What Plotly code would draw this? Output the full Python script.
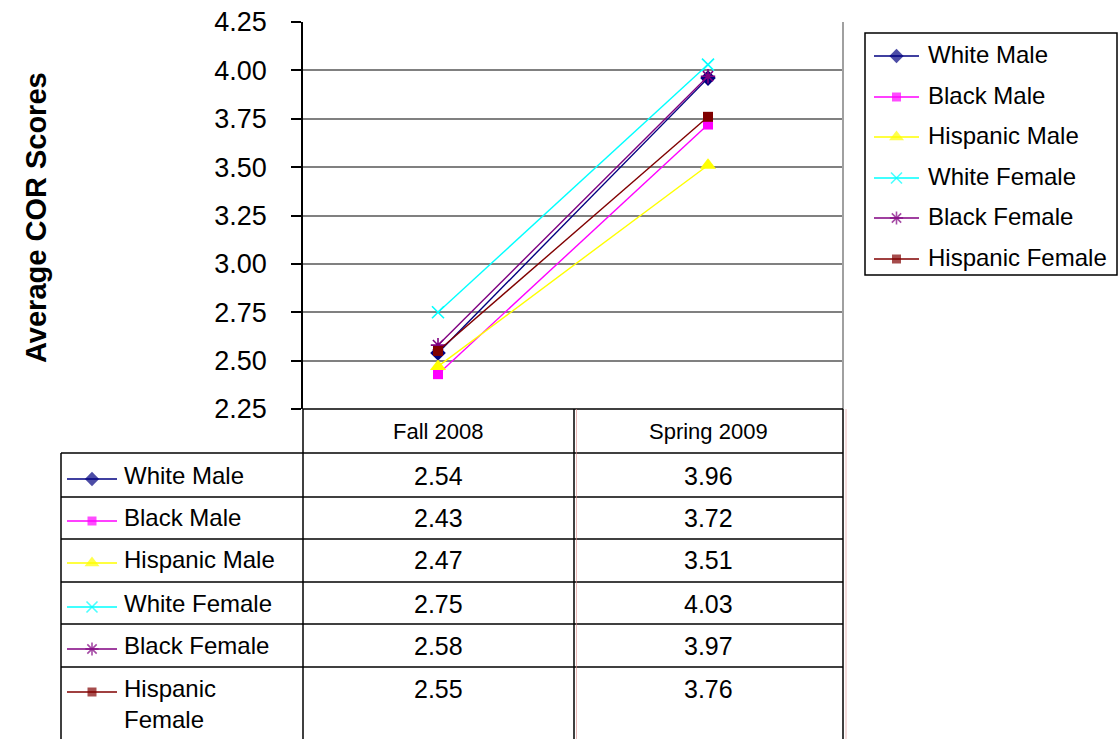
import textwrap
import plotly.graph_objects as go

W, H = 1120, 739
FONT = "Liberation Sans, Arial, sans-serif"

# ---- data ----
terms = ["Fall 2008", "Spring 2009"]
groups = ["White Male", "Black Male", "Hispanic Male",
          "White Female", "Black Female", "Hispanic Female"]
fall_2008 = [2.54, 2.43, 2.47, 2.75, 2.58, 2.55]
spring_2009 = [3.96, 3.72, 3.51, 4.03, 3.97, 3.76]
y_ticks = [2.25, 2.50, 2.75, 3.00, 3.25, 3.50, 3.75, 4.00, 4.25]

# ---- series styling ----
styles = {
    "White Male":      dict(color="#000080", symbol="diamond", size=12),
    "Black Male":      dict(color="#FF00FF", symbol="square", size=10),
    "Hispanic Male":   dict(color="#FFFF00", symbol="triangle-up", size=14),
    "White Female":    dict(color="#00FFFF", symbol="x-thin", size=12),
    "Black Female":    dict(color="#800080", symbol="asterisk", size=12),
    "Hispanic Female": dict(color="#800000", symbol="square", size=10),
}
LINE_SYMBOLS = {"x-thin", "asterisk"}


def marker_for(st, size):
    if st["symbol"] in LINE_SYMBOLS:
        return dict(symbol=st["symbol"], size=size, color=st["color"],
                    line=dict(color=st["color"], width=1.6))
    return dict(symbol=st["symbol"], size=size, color=st["color"],
                line=dict(width=0))


# ---- layout geometry (pixels) ----
PLOT_L, PLOT_R, PLOT_T, PLOT_B = 303, 843, 22, 409
TABLE_LEFT, COL_MID = 61, 574
HEADER_Y = 431
row_lines = [453, 497, 539, 582, 624, 667]
row_text_y = [476, 518, 560, 604, 646, 689]
LEG_BOX = (865, 33, 1117, 275)
leg_text_y = [54, 95, 135, 176, 216, 257]

fig = go.Figure()

# main lines
for i, g in enumerate(groups):
    st = styles[g]
    fig.add_trace(go.Scatter(
        x=terms, y=[fall_2008[i], spring_2009[i]],
        mode="lines+markers", name=g,
        line=dict(color=st["color"], width=1.4),
        marker=marker_for(st, st["size"]),
        xaxis="x", yaxis="y", showlegend=False, cliponaxis=False,
    ))


# legend keys (table rows and right-hand legend) on a full-page pixel axis
def add_key(g, x0, x1, y):
    st = styles[g]
    xm = (x0 + x1) / 2
    m = marker_for(st, st["size"] - 1)
    m["size"] = [0, st["size"] - 1, 0]
    fig.add_trace(go.Scatter(
        x=[x0, xm, x1], y=[y, y, y], mode="lines+markers",
        line=dict(color=st["color"], width=1.4), marker=m,
        xaxis="x2", yaxis="y2", showlegend=False, hoverinfo="skip",
    ))


annotations = []
shapes = []

for i, g in enumerate(groups):
    add_key(g, 67, 117, row_text_y[i] + 3)
    add_key(g, 874, 919, leg_text_y[i] + 2)
    lines = textwrap.wrap(g, 14)
    annotations.append(dict(
        x=122, y=row_text_y[i] - 16, xref="x2", yref="y2",
        text="<br>".join(lines), showarrow=False, xanchor="left", yanchor="top",
        align="left", font=dict(size=24, color="black", family=FONT)))
    annotations.append(dict(
        x=926, y=leg_text_y[i], xref="x2", yref="y2", text=g,
        showarrow=False, xanchor="left", yanchor="middle",
        font=dict(size=24, color="black", family=FONT)))
    for t, vals in zip(terms, (fall_2008, spring_2009)):
        annotations.append(dict(
            x=t, y=row_text_y[i], xref="x", yref="y2", text=f"{vals[i]:.2f}",
            showarrow=False, xanchor="center", yanchor="middle",
            font=dict(size=25, color="black", family=FONT)))

# table header (category names)
for t in terms:
    annotations.append(dict(
        x=t, y=HEADER_Y, xref="x", yref="y2", text=t, showarrow=False,
        xanchor="center", yanchor="middle",
        font=dict(size=22, color="black", family=FONT)))

# y-axis title
annotations.append(dict(
    x=36, y=218, xref="x2", yref="y2", text="<b>Average COR Scores</b>",
    textangle=-90, showarrow=False, xanchor="center", yanchor="middle",
    font=dict(size=29, color="black", family=FONT)))


def seg(x0, y0, x1, y1, color="black", width=1.5):
    shapes.append(dict(type="line", xref="x2", yref="y2", x0=x0, y0=y0,
                       x1=x1, y1=y1, line=dict(color=color, width=width),
                       layer="above"))


# plot-area right border
seg(PLOT_R, PLOT_T, PLOT_R, PLOT_B, color="#a0a0a0", width=2)
# table grid
seg(PLOT_L, PLOT_B, PLOT_R, PLOT_B)
for y in row_lines:
    seg(TABLE_LEFT, y, PLOT_R, y)
seg(PLOT_L, PLOT_B, PLOT_L, H + 5)
seg(COL_MID, PLOT_B, COL_MID, H + 5)
seg(PLOT_R, PLOT_B, PLOT_R, H + 5)
seg(TABLE_LEFT, row_lines[0], TABLE_LEFT, H + 5)
seg(COL_MID + 2.5, PLOT_B, COL_MID + 2.5, H + 5, color="rgba(220,140,140,0.6)", width=1)
seg(PLOT_R + 3, PLOT_B, PLOT_R + 3, H + 5, color="rgba(220,140,140,0.6)", width=1)
# legend box
shapes.append(dict(type="rect", xref="x2", yref="y2",
                   x0=LEG_BOX[0], y0=LEG_BOX[1], x1=LEG_BOX[2], y1=LEG_BOX[3],
                   line=dict(color="black", width=1.5), fillcolor="rgba(0,0,0,0)"))

fig.update_layout(
    width=W, height=H,
    margin=dict(l=0, r=0, t=0, b=0, pad=0, autoexpand=False),
    paper_bgcolor="white", plot_bgcolor="rgba(0,0,0,0)",
    showlegend=False,
    font=dict(family=FONT, color="black"),
    xaxis=dict(
        domain=[PLOT_L / W, PLOT_R / W], type="category",
        categoryorder="array", categoryarray=terms, range=[-0.5, 1.5],
        showticklabels=False, showgrid=False, zeroline=False, showline=False,
        ticks="", anchor="y", automargin=False,
    ),
    yaxis=dict(
        domain=[(H - PLOT_B) / H, (H - PLOT_T) / H], range=[2.25, 4.25],
        tickvals=y_ticks, ticktext=[f"{v:.2f}" for v in y_ticks],
        ticks="outside", ticklen=10, tickwidth=1.5, tickcolor="black",
        showline=True, linecolor="black", linewidth=1.5,
        showgrid=True, gridcolor="#808080", gridwidth=1.5, zeroline=False,
        tickfont=dict(size=27, family=FONT, color="black"),
        ticklabelstandoff=19, anchor="x", automargin=False,
    ),
    xaxis2=dict(domain=[0, 1], range=[0, W], visible=False, anchor="y2",
                fixedrange=True, automargin=False),
    yaxis2=dict(domain=[0, 1], range=[H, 0], visible=False, anchor="x2",
                fixedrange=True, automargin=False),
    annotations=annotations,
    shapes=shapes,
)

fig.write_html("out.html")
